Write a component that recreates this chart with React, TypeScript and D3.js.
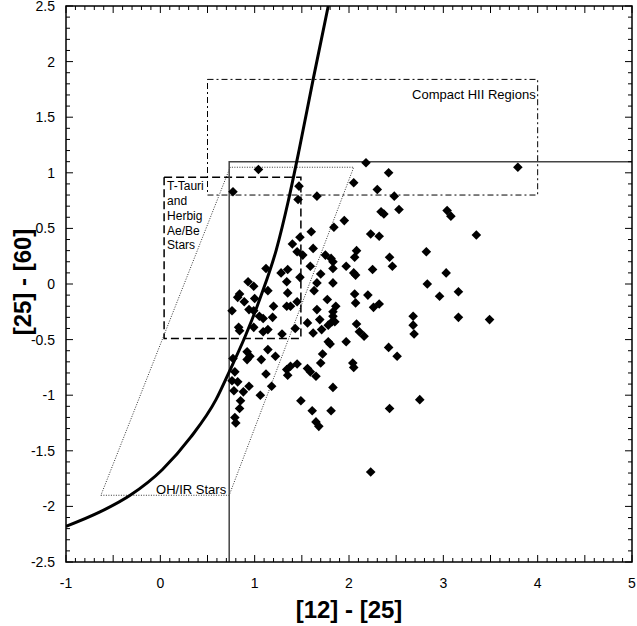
import React, { useEffect, useRef } from "react";
import * as d3 from "d3";

// IRAS colours of the sources, [12]-[25] and [25]-[60]
const sourceX = [
  1.04, 0.77, 1.47, 1.46, 1.66, 1.6, 1.48, 1.4, 1.62, 1.45, 1.51, 1.75, 1.59, 1.12, 1.35, 1.28, 1.7, 1.48, 1.34, 0.93,
  0.99, 1.66, 1.14, 1.35, 1.63, 0.84, 0.82, 1.0, 2.18, 2.42, 2.05, 2.3, 2.48, 2.53, 2.34, 2.37, 1.95, 1.84, 2.23, 2.32,
  2.82, 2.08, 2.06, 2.43, 1.81, 1.83, 1.97, 2.46, 1.83, 2.25, 2.05, 2.07, 1.83, 2.83, 2.06, 2.2, 1.77, 0.89, 1.2, 1.34,
  1.38, 1.45, 0.76, 0.94, 0.99, 1.05, 1.09, 1.19, 1.66, 1.69, 1.56, 0.99, 0.83, 0.84, 1.09, 1.14, 1.29, 1.43, 1.62, 1.78,
  1.14, 1.22, 0.92, 0.95, 0.92, 0.77, 1.07, 1.72, 1.7, 1.45, 1.38, 1.34, 1.35, 1.56, 1.59, 1.65, 0.79, 1.12, 0.76, 0.82,
  0.94, 1.18, 0.78, 0.88, 1.06, 0.85, 0.84, 1.49, 1.61, 1.65, 1.68, 0.79, 0.8, 2.07, 2.26, 2.32, 1.86, 1.83, 1.83, 1.82,
  1.85, 1.78, 1.71, 2.08, 2.11, 2.16, 2.68, 2.68, 2.69, 1.8, 1.97, 2.42, 2.51, 2.04, 2.05, 1.83, 1.81, 2.43, 2.75, 3.79,
  3.04, 3.08, 3.35, 3.03, 2.96, 3.16, 3.16, 3.49, 2.23,
];
const sourceY = [
  1.03, 0.83, 0.88, 0.76, 0.79, 0.47, 0.42, 0.36, 0.32, 0.29, 0.26, 0.26, 0.16, 0.14, 0.13, 0.1, 0.09, 0.06, 0.02, 0.02,
  -0.02, 0.01, -0.06, -0.08, -0.06, -0.09, -0.12, -0.13, 1.09, 1.0, 0.91, 0.85, 0.79, 0.67, 0.65, 0.63, 0.57, 0.51, 0.45, 0.43,
  0.29, 0.3, 0.24, 0.24, 0.23, 0.2, 0.16, 0.16, 0.14, 0.13, 0.1, 0.08, 0.01, 0.0, -0.09, -0.1, -0.14, -0.16, -0.2, -0.2,
  -0.2, -0.16, -0.24, -0.23, -0.24, -0.29, -0.31, -0.3, -0.23, -0.32, -0.35, -0.39, -0.39, -0.42, -0.43, -0.41, -0.45, -0.4, -0.44, -0.52,
  -0.59, -0.65, -0.61, -0.65, -0.68, -0.67, -0.68, -0.63, -0.71, -0.72, -0.74, -0.77, -0.82, -0.76, -0.79, -0.83, -0.79, -0.81, -0.87, -0.88,
  -0.92, -0.92, -0.96, -0.97, -1.0, -1.05, -1.12, -1.05, -1.14, -1.24, -1.28, -1.2, -1.25, -0.17, -0.21, -0.18, -0.2, -0.25, -0.29, -0.34,
  -0.34, -0.37, -0.41, -0.36, -0.43, -0.47, -0.29, -0.37, -0.45, -0.54, -0.52, -0.57, -0.65, -0.71, -0.75, -0.93, -1.14, -1.12, -1.04, 1.05,
  0.66, 0.61, 0.44, 0.1, -0.11, -0.07, -0.3, -0.32, -1.69,
];

// blackbody line
const bbX = [-1.0, -0.64, -0.32, 0.02, 0.32, 0.59, 0.73, 0.9, 1.07, 1.23, 1.36, 1.47, 1.62, 1.78];
const bbY = [-2.18, -2.05, -1.9, -1.67, -1.38, -1.04, -0.79, -0.47, -0.1, 0.31, 0.76, 1.2, 1.84, 2.5];

// regions [x0, x1, y0, y1]
const hiiBox = [0.5, 4.0, 0.8, 1.84];
const tTauriBox = [0.04, 1.49, -0.49, 0.96];
const cornerX = 0.73;
const cornerY = 1.1;
// OH/IR parallelogram: bottom edge, top edge
const ohirX = [-0.63, 0.73, 2.05, 0.74];
const ohirY = [-1.9, -1.9, 1.05, 1.05];

const xTicks = [-1, 0, 1, 2, 3, 4, 5];
const yTicks = [-2.5, -2, -1.5, -1, -0.5, 0, 0.5, 1, 1.5, 2, 2.5];
const tTauriLabel = ["T-Tauri", "and", "Herbig", "Ae/Be", "Stars"];

const App = () => {
  const ref = useRef<SVGSVGElement>(null);

  useEffect(() => {
    document.body.style.margin = "0";
    draw();
  });

  let draw = () => {
    const width = 637;
    const height = 626;
    const svg = d3.select(ref.current);
    svg.selectAll("*").remove();
    svg.attr("width", width).attr("height", height);

    const x = d3.scaleLinear().domain([-1, 5]).range([66, 632]);
    const y = d3.scaleLinear().domain([-2.5, 2.5]).range([562, 6]);
    const font = "'Liberation Sans', Arial, Helvetica, sans-serif";

    const clip = svg.append("clipPath").attr("id", "plotclip");
    clip.append("rect").attr("x", 66).attr("y", 6).attr("width", 566).attr("height", 556);

    const plot = svg.append("g").attr("clip-path", "url(#plotclip)");

    // minor and major ticks, inward on all sides
    const xMinor = d3.range(-10, 51).map((d) => d / 10);
    const yMinor = d3.range(-25, 26).map((d) => d / 10);
    const isMajor = (v: number) => Math.abs(v * 2 - Math.round(v * 2)) < 1e-6;
    const ticks = svg.append("g").attr("stroke", "#000").attr("stroke-width", 1);
    xMinor.forEach((v) => {
      const len = isMajor(v) ? 7 : 4;
      ticks.append("line").attr("x1", x(v)).attr("x2", x(v)).attr("y1", 562).attr("y2", 562 - len);
      ticks.append("line").attr("x1", x(v)).attr("x2", x(v)).attr("y1", 6).attr("y2", 6 + len);
    });
    yMinor.forEach((v) => {
      const len = isMajor(v) ? 7 : 4;
      ticks.append("line").attr("x1", 66).attr("x2", 66 + len).attr("y1", y(v)).attr("y2", y(v));
      ticks.append("line").attr("x1", 632).attr("x2", 632 - len).attr("y1", y(v)).attr("y2", y(v));
    });

    // compact HII box
    plot
      .append("rect")
      .attr("x", x(hiiBox[0]))
      .attr("y", y(hiiBox[3]))
      .attr("width", x(hiiBox[1]) - x(hiiBox[0]))
      .attr("height", y(hiiBox[2]) - y(hiiBox[3]))
      .attr("fill", "none")
      .attr("stroke", "#000")
      .attr("stroke-width", 1)
      .attr("stroke-dasharray", "6,3,2,3");

    // T-Tauri box
    plot
      .append("rect")
      .attr("x", x(tTauriBox[0]))
      .attr("y", y(tTauriBox[3]))
      .attr("width", x(tTauriBox[1]) - x(tTauriBox[0]))
      .attr("height", y(tTauriBox[2]) - y(tTauriBox[3]))
      .attr("fill", "none")
      .attr("stroke", "#000")
      .attr("stroke-width", 1.5)
      .attr("stroke-dasharray", "8,4");

    // OH/IR parallelogram
    const ohirPts = ohirX.map((d, i) => [x(d), y(ohirY[i])] as [number, number]);
    plot
      .append("path")
      .attr("d", d3.line()(ohirPts.concat([ohirPts[0]])))
      .attr("fill", "none")
      .attr("stroke", "#000")
      .attr("stroke-width", 0.8)
      .attr("stroke-dasharray", "1,1.5");

    // solid corner lines
    plot
      .append("path")
      .attr(
        "d",
        d3.line()([
          [x(cornerX), y(-2.5)],
          [x(cornerX), y(cornerY)],
          [x(5), y(cornerY)],
        ])
      )
      .attr("fill", "none")
      .attr("stroke", "#444")
      .attr("stroke-width", 1.5);

    // blackbody curve
    const bb = bbX.map((d, i) => [x(d), y(bbY[i])] as [number, number]);
    plot
      .append("path")
      .attr("d", d3.line().curve(d3.curveMonotoneX)(bb))
      .attr("fill", "none")
      .attr("stroke", "#000")
      .attr("stroke-width", 3);

    // sources
    const r = 4.8;
    plot
      .append("g")
      .selectAll("path")
      .data(sourceX)
      .enter()
      .append("path")
      .attr("d", `M0,${-r}L${r},0L0,${r}L${-r},0Z`)
      .attr("transform", (d, i) => `translate(${x(d)},${y(sourceY[i])})`)
      .attr("fill", "#000");

    // frame
    svg
      .append("rect")
      .attr("x", 66)
      .attr("y", 6)
      .attr("width", 566)
      .attr("height", 556)
      .attr("fill", "none")
      .attr("stroke", "#000")
      .attr("stroke-width", 1.5);

    // annotations
    svg
      .append("text")
      .attr("x", x(hiiBox[1]) - 2)
      .attr("y", y(hiiBox[3]) + 20)
      .attr("text-anchor", "end")
      .style("font-family", font)
      .style("font-size", "13px")
      .text("Compact HII Regions");

    svg
      .append("g")
      .selectAll("text")
      .data(tTauriLabel)
      .enter()
      .append("text")
      .attr("x", x(tTauriBox[0]) + 3)
      .attr("y", (d, i) => y(tTauriBox[3]) + 13 + i * 14.8)
      .style("font-family", font)
      .style("font-size", "12px")
      .text((d) => d);

    svg
      .append("text")
      .attr("x", x(ohirX[1]) - 3)
      .attr("y", y(ohirY[1]) - 1.5)
      .attr("text-anchor", "end")
      .style("font-family", font)
      .style("font-size", "13px")
      .text("OH/IR Stars");

    // tick labels
    svg
      .append("g")
      .selectAll("text")
      .data(xTicks)
      .enter()
      .append("text")
      .attr("x", (d) => x(d))
      .attr("y", 588)
      .attr("text-anchor", "middle")
      .style("font-family", font)
      .style("font-size", "14px")
      .text((d) => d);

    svg
      .append("g")
      .selectAll("text")
      .data(yTicks)
      .enter()
      .append("text")
      .attr("x", 55)
      .attr("y", (d) => y(d) + 5)
      .attr("text-anchor", "end")
      .style("font-family", font)
      .style("font-size", "14px")
      .text((d) => d);

    // axis titles
    svg
      .append("text")
      .attr("x", 349)
      .attr("y", 618)
      .attr("text-anchor", "middle")
      .style("font-family", font)
      .style("font-size", "24px")
      .style("font-weight", "bold")
      .text("[12] - [25]");

    svg
      .append("text")
      .attr("transform", `translate(31, 282) rotate(-90)`)
      .attr("text-anchor", "middle")
      .style("font-family", font)
      .style("font-size", "24px")
      .style("font-weight", "bold")
      .text("[25] - [60]");
  };

  return <svg ref={ref} style={{ display: "block" }}></svg>;
};

export default App;
